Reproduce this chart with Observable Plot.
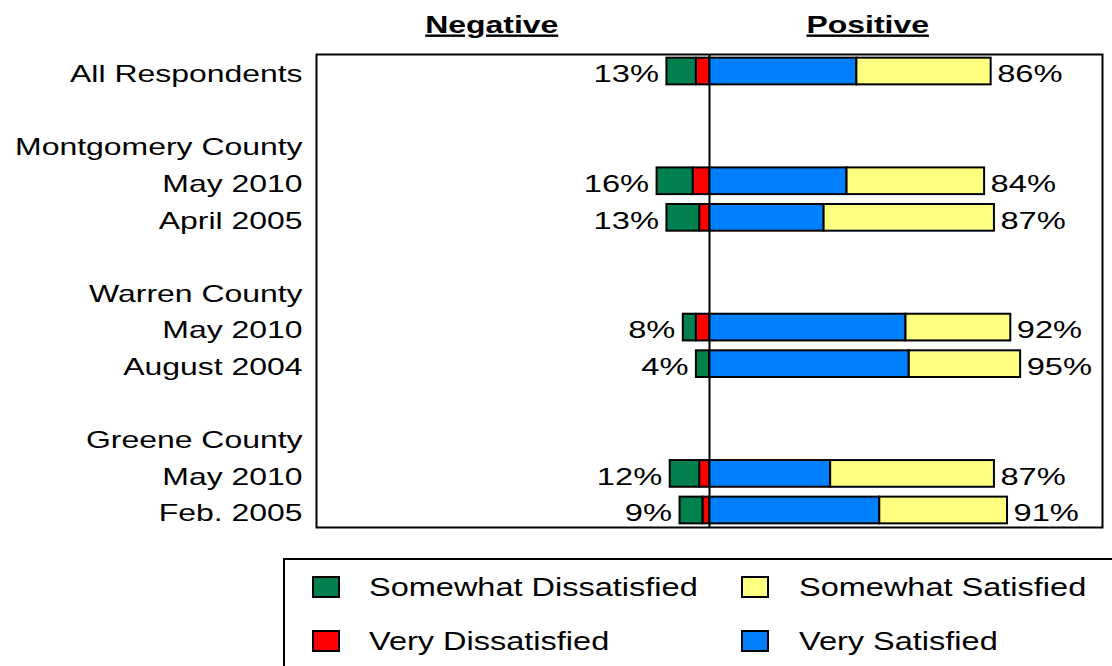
<!DOCTYPE html>
<html><head><meta charset="utf-8">
<script src="https://cdn.jsdelivr.net/npm/d3@7"></script>
<script src="https://cdn.jsdelivr.net/npm/@observablehq/plot@0.6"></script>
<style>
body{margin:0;background:#fff;font-family:"Liberation Sans",Arial,sans-serif;}
#wrap{position:relative;width:1112px;height:666px;overflow:hidden;background:#fff;}
#legend{position:absolute;left:283px;top:558px;width:900px;height:200px;border:2px solid #000;box-sizing:border-box;}
.sw{position:absolute;width:28px;height:22px;border:2px solid #000;box-sizing:border-box;}
.lt{position:absolute;font-size:26px;line-height:26px;white-space:nowrap;transform:scaleX(1.25);transform-origin:left center;color:#000;}
</style></head>
<body><div id="wrap"><div id="chart"></div><div id="legend"></div></div>
<script>
// Row labels (blank strings are spacer rows)
const categories = ["All Respondents","","Montgomery County","May 2010","April 2005","","Warren County","May 2010","August 2004","","Greene County","May 2010","Feb. 2005"];
// Series values (%), null for header / spacer rows
const veryDissatisfied     = [4, null, null, 5, 3, null, null, 4, 0, null, null, 3, 2];
const somewhatDissatisfied = [9, null, null, 11, 10, null, null, 4, 4, null, null, 9, 7];
const verySatisfied        = [45, null, null, 42, 35, null, null, 60, 61, null, null, 37, 52];
const somewhatSatisfied    = [41, null, null, 42, 52, null, null, 32, 34, null, null, 50, 39];
// Totals as printed
const negativeTotals = [13, null, null, 16, 13, null, null, 8, 4, null, null, 12, 9];
const positiveTotals = [86, null, null, 84, 87, null, null, 92, 95, null, null, 87, 91];

const seriesNames  = ["Very Dissatisfied","Somewhat Dissatisfied","Very Satisfied","Somewhat Satisfied"];
const seriesColors = ["#ff0000","#007f4f","#0080ff","#ffff80"];
const legendRows   = [["Somewhat Dissatisfied","Somewhat Satisfied"],["Very Dissatisfied","Very Satisfied"]];
const headers      = ["Negative","Positive"];

const rows = categories.map((c, i) => i);
const table = [];
rows.forEach(i => {
  if (veryDissatisfied[i] == null) return;
  const vals = [-veryDissatisfied[i], -somewhatDissatisfied[i], verySatisfied[i], somewhatSatisfied[i]];
  seriesNames.forEach((s, j) => { if (vals[j] !== 0) table.push({row: i, series: s, value: vals[j]}); });
});
const totals = rows.filter(i => negativeTotals[i] != null).map(i => ({
  row: i,
  negX: -(veryDissatisfied[i] + somewhatDissatisfied[i]),
  posX: verySatisfied[i] + somewhatSatisfied[i],
  neg: negativeTotals[i], pos: positiveTotals[i]
}));

const plot = Plot.plot({
  width: 1112, height: 545,
  marginLeft: 316, marginRight: 10, marginTop: 54, marginBottom: 18,
  style: {fontFamily: "'Liberation Sans', Arial, sans-serif", fontSize: "24px", background: "#fff", color: "#000"},
  x: {domain: [-120, 120], axis: null},
  y: {domain: rows, paddingInner: 0.27, paddingOuter: 0.1, round: false, axis: null},
  color: {domain: seriesNames, range: seriesColors},
  marks: [
    Plot.barX(table, Plot.stackX({x: "value", y: "row", fill: "series", order: seriesNames, stroke: "#000", strokeWidth: 2})),
    Plot.ruleX([0], {stroke: "#000", strokeWidth: 2}),
    Plot.frame({stroke: "#000", strokeWidth: 2}),
    Plot.axisY({tickSize: 0, tickPadding: 14, tickFormat: i => categories[i], label: null, fontSize: 24, dy: 3, textAnchor: "end", fill: "#000"}),
    Plot.text(totals, {x: "negX", y: "row", text: d => d.neg + "%", textAnchor: "end", dx: -8, dy: 3, fontSize: 24, fill: "#000"}),
    Plot.text(totals, {x: "posX", y: "row", text: d => d.pos + "%", textAnchor: "start", dx: 6, dy: 3, fontSize: 24, fill: "#000"}),
    Plot.text(headers, {x: [-66.5, 48.3], frameAnchor: "top", lineAnchor: "bottom", dy: -22, text: d => d, fontSize: 24, fontWeight: "bold", fill: "#000"})
  ]
});
document.getElementById("chart").append(plot);

plot.querySelectorAll("text").forEach(t => {
  if (headers.includes(t.textContent)) t.style.textDecoration = "underline";
  const isPct = /%$/.test(t.textContent);
  const w = t.getComputedTextLength();
  if (w > 0) { t.setAttribute("textLength", w * (isPct ? 1.36 : 1.33)); t.setAttribute("lengthAdjust", "spacingAndGlyphs"); }
});

// Legend
const legend = document.getElementById("legend");
const colLeft = [27, 456], textLeft = [84, 514], rowCenter = [27, 81];
legendRows.forEach((r, ri) => r.forEach((name, ci) => {
  const sw = document.createElement("div");
  sw.className = "sw";
  sw.style.left = colLeft[ci] + "px";
  sw.style.top = (rowCenter[ri] - 11) + "px";
  sw.style.background = seriesColors[seriesNames.indexOf(name)];
  legend.append(sw);
  const t = document.createElement("div");
  t.className = "lt";
  t.textContent = name;
  t.style.left = textLeft[ci] + "px";
  t.style.top = (rowCenter[ri] - 13) + "px";
  legend.append(t);
}));
</script>
</body></html>
